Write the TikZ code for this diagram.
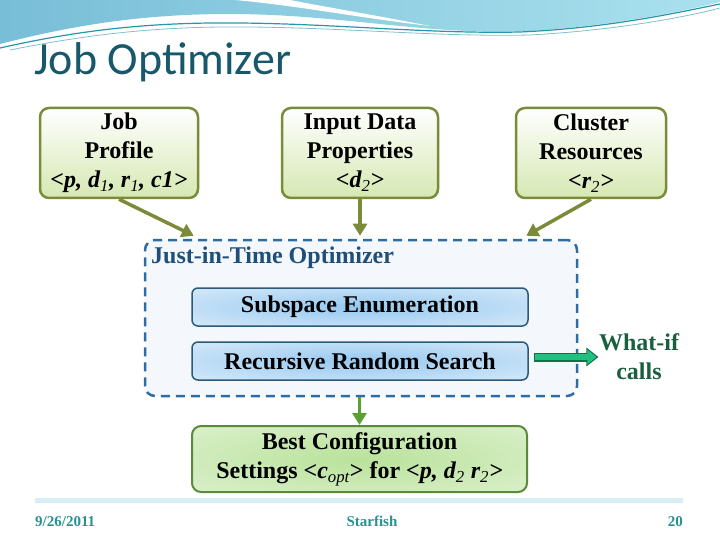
\documentclass[tikz,border=0pt]{standalone}
\usepackage{fontspec}
\setmainfont{Liberation Serif}
\newfontfamily\titlefont{Carlito}
\usetikzlibrary{calc, positioning, arrows.meta}

\definecolor{headblue}{RGB}{120,190,215}
\definecolor{headlight}{RGB}{170,225,238}
\definecolor{headline}{RGB}{40,150,170}
\definecolor{titleteal}{RGB}{23,88,106}
\definecolor{oliveline}{RGB}{122,140,58}
\definecolor{olivefill}{RGB}{214,232,178}
\definecolor{jitblue}{RGB}{46,108,164}
\definecolor{jittext}{RGB}{31,78,121}
\definecolor{jitfill}{RGB}{244,248,252}
\definecolor{stepline}{RGB}{42,90,120}
\definecolor{stepfill}{RGB}{150,200,240}
\definecolor{bestline}{RGB}{90,138,58}
\definecolor{bestfill}{RGB}{185,226,155}
\definecolor{downgreen}{RGB}{90,160,50}
\definecolor{whatgreen}{RGB}{32,192,128}
\definecolor{whatdark}{RGB}{20,110,70}
\definecolor{whattext}{RGB}{26,96,64}
\definecolor{footband}{RGB}{214,238,244}
\definecolor{footteal}{RGB}{42,144,144}

\pgfdeclareradialshading{stepglow}{\pgfpoint{0bp}{0bp}}{color(0bp)=(stepfill); color(45bp)=(white!75!stepfill); color(72bp)=(white)}
\pgfdeclareradialshading{bestglow}{\pgfpoint{0bp}{0bp}}{color(0bp)=(bestfill); color(45bp)=(white!60!bestfill); color(72bp)=(white!85!bestfill)}

\tikzset{
  inbox/.style={draw=oliveline, line width=2.5pt, rounded corners=9pt,
    top color=white, bottom color=olivefill, align=center,
    minimum height=90pt, inner sep=0pt,
    font=\bfseries\fontsize{24}{29}\selectfont},
  feed/.style={draw=oliveline, line width=3.5pt,
    -{Triangle[length=12pt,width=14pt]}},
  stepbox/.style={draw=stepline, line width=1.5pt, rounded corners=6pt,
    shading=stepglow, minimum width=336pt, minimum height=38pt,
    font=\bfseries\fontsize{24}{29}\selectfont},
  footnote/.style={text=footteal, font=\bfseries\fontsize{15}{17}\selectfont}
}

\begin{document}
\begin{tikzpicture}[x=1pt, y=-1pt]
  \useasboundingbox (0,0) rectangle (720,540);
  % Header wave
  \shade[left color=headblue, right color=headlight]
    (0,0) -- (0,44) .. controls (70,26) and (140,14) .. (230,14)
    .. controls (340,14) and (430,36) .. (530,31)
    .. controls (610,26) and (680,12) .. (720,2) -- (720,0) -- cycle;
  \fill[white] (235,0) .. controls (300,6) and (360,18) .. (430,26)
    .. controls (380,16) and (320,6) .. (290,0) -- cycle;
  \draw[headline, line width=1.2pt] (0,48) .. controls (80,30) and (150,22) .. (240,23)
    .. controls (340,24) and (430,34) .. (520,32)
    .. controls (610,28) and (680,12) .. (720,4);
  \draw[headline!60, line width=0.8pt] (10,50) .. controls (90,34) and (160,26) .. (250,27)
    .. controls (350,28) and (440,37) .. (530,35)
    .. controls (620,30) and (690,16) .. (720,8);
  % Title
  \node[anchor=base west, inner sep=0pt, text=titleteal,
    font=\titlefont\fontsize{46}{50}\selectfont] (title) at (34,75) {Job Optimizer};

  % Inputs
  \node[inbox, minimum width=158pt] (prof) at (119,153)
    {Job\\Profile\\\textit{<p, d$_{\mathit{1}}$, r$_{\mathit{1}}$, c1>}};
  \node[inbox, minimum width=156pt] (inpt) at (360,153)
    {Input Data\\Properties\\\textit{<d$_{\mathit{2}}$>}};
  \node[inbox, minimum width=150pt] (clus) at (591,153)
    {Cluster\\Resources\\\textit{<r$_{\mathit{2}}$>}};

  % Just-in-time optimizer
  \node[draw=jitblue, fill=jitfill, line width=2.5pt, dash pattern=on 9pt off 6pt,
    rounded corners=10pt, minimum width=432pt, minimum height=156pt] (jit) at (361,318) {};
  \node[anchor=north west, inner sep=0pt, text=jittext,
    font=\bfseries\fontsize{24}{29}\selectfont] (jitlabel) at (151,247) {Just-in-Time Optimizer};
  \node[stepbox] (subsp) at (360,307) {Subspace Enumeration};
  \node[stepbox] (rrs) at (360,361) {Recursive Random Search};

  \draw[feed] (prof.south) -- ([xshift=50pt,yshift=3pt]jit.north west);
  \draw[feed] (inpt.south) -- ([yshift=3pt]jit.north -| inpt.south);
  \draw[feed] (clus.south) -- ([xshift=-52pt,yshift=3pt]jit.north east);

  % What-if calls
  \node[align=center, text=whattext, font=\bfseries\fontsize{24}{29}\selectfont] (whatif) at (639,357) {What-if\\calls};
  \draw[whatdark, line width=9pt, -{Triangle[length=12pt,width=18pt]}]
    ([xshift=5pt]rrs.east |- whatif.west) -- ([xshift=3pt]whatif.west);
  \draw[whatgreen, line width=6pt, -{Triangle[length=9pt,width=14pt]}]
    ([xshift=6.5pt]rrs.east |- whatif.west) -- ([xshift=1pt]whatif.west);

  % Result
  \node[draw=bestline, line width=2pt, rounded corners=9pt, shading=bestglow,
    minimum width=335pt, minimum height=66pt, align=center,
    font=\bfseries\fontsize{24}{29}\selectfont] (best) at (359.5,459)
    {Best Configuration\\Settings <\textit{c$_{\mathit{opt}}$}> for \textit{<p, d$_{\mathit{2}}$ r$_{\mathit{2}}$>}};
  \draw[downgreen, line width=3.5pt, -{Triangle[length=12pt,width=14pt]}]
    (jit.south -| best.north) -- (best.north);

  % Footer
  \fill[footband] (35,498) rectangle (683,503);
  \node[footnote, anchor=base west, inner sep=0pt] (date) at (35,526) {9/26/2011};
  \node[footnote, anchor=base, inner sep=0pt] (name) at (372,526) {Starfish};
  \node[footnote, anchor=base east, inner sep=0pt] (page) at (683,526) {20};
\end{tikzpicture}
\end{document}
